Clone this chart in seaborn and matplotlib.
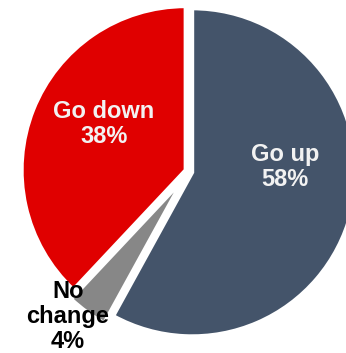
import matplotlib
matplotlib.use("Agg")
import matplotlib.pyplot as plt
import seaborn as sns

categories = ["Go up", "No change", "Go down"]
values = [58, 4, 38]
label_texts = ["Go up\n58%", "No\nchange\n4%", "Go down\n38%"]

sns.set_theme(style="white")
plt.rcParams["font.family"] = ["Liberation Sans", "DejaVu Sans"]

colors = ["#44546A", "#878787", "#E00000"]

fig = plt.figure(figsize=(3.46, 3.53), dpi=100)
ax = fig.add_axes([0, 0, 1, 1])
wedges, _ = ax.pie(values, colors=colors, startangle=90, counterclock=False,
                   explode=[0.02, 0.06, 0.022],
                   wedgeprops=dict(edgecolor="white", linewidth=2.9))
ax.set_aspect("equal")
ax.set_xlim(-1.1524, 0.9573)
ax.set_ylim(-1.1067, 1.0457)
ax.axis("off")

ax.text(0.585, 0.027, label_texts[0], ha="center", va="center", color="#F2F2F2",
        fontsize=17, fontweight="bold", linespacing=1.12)
ax.text(-0.518, 0.29, label_texts[2], ha="center", va="center", color="#F2F2F2",
        fontsize=17, fontweight="bold", linespacing=1.12)
ax.text(-0.738, -0.885, label_texts[1], ha="center", va="center", color="black",
        fontsize=17, fontweight="bold", linespacing=1.12)

fig.savefig("out.png", dpi=100)
